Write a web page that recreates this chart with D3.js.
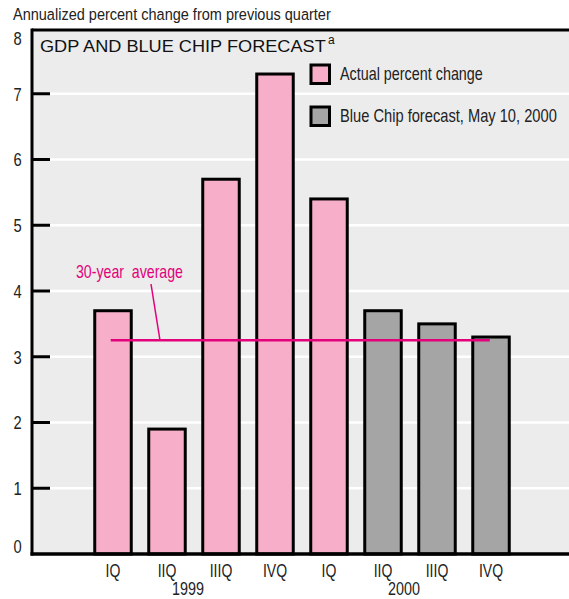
<!DOCTYPE html>
<html><head><meta charset="utf-8">
<script src="https://cdn.jsdelivr.net/npm/d3@7"></script>
<style>
body{margin:0;background:#fff;}
text{font-family:"Liberation Sans",Arial,sans-serif;}
</style></head>
<body><svg id="c" width="569" height="599"></svg>
<script>
const categories = ["IQ 1999","IIQ 1999","IIIQ 1999","IVQ 1999","IQ 2000","IIQ 2000","IIIQ 2000","IVQ 2000"];
const quarterLabels = ["IQ","IIQ","IIIQ","IVQ","IQ","IIQ","IIIQ","IVQ"];
const values = [3.7, 1.9, 5.7, 7.3, 5.4, 3.7, 3.5, 3.3];
const series = ["actual","actual","actual","actual","actual","forecast","forecast","forecast"];
const yearLabels = [{year:"1999", between:["IIQ 1999","IIIQ 1999"]},{year:"2000", between:["IIQ 2000","IIIQ 2000"]}];
const average30 = 3.25;
const yTicks = [0,1,2,3,4,5,6,7,8];
const legendItems = [{key:"actual",label:"Actual percent change"},{key:"forecast",label:"Blue Chip forecast, May 10, 2000"}];

const colors = {actual:"#f7aec8", forecast:"#a5a5a5"};
const magenta = "#e3007b";
const svg = d3.select("#c");
const pLeft = 32, pTop = 30, pBottom = 554, pRight = 575;

// horizontal compression around the text's own x position
function squeeze(sel, f){
  sel.each(function(){
    const x0 = +this.getAttribute("x") || 0;
    d3.select(this).attr("transform", `translate(${x0},0) scale(${f},1) translate(${-x0},0)`);
  });
}
// compress to a target width
function fit(sel, w){
  sel.each(function(){
    const nat = this.getComputedTextLength();
    d3.select(this).call(squeeze, w/nat);
  });
}

const y = d3.scaleLinear().domain([0,8]).range([pBottom, 28]);
const x = d3.scaleBand().domain(categories).range([86, 518]).paddingInner(0.324).paddingOuter(0.162);

// panel
svg.append("rect").attr("x",pLeft).attr("y",pTop).attr("width",pRight-pLeft).attr("height",pBottom-pTop).attr("fill","#ececec");
// gridlines
svg.selectAll("line.grid").data(yTicks.filter(d=>d>0 && d<8)).join("line")
  .attr("x1",pLeft).attr("x2",pRight).attr("y1",d=>y(d)).attr("y2",d=>y(d))
  .attr("stroke","#fff").attr("stroke-width",2.5);

// bars
svg.selectAll("rect.bar").data(categories).join("rect")
  .attr("x",d=>x(d)).attr("width",x.bandwidth())
  .attr("y",(d,i)=>y(values[i])).attr("height",(d,i)=>y(0)-y(values[i]))
  .attr("fill",(d,i)=>colors[series[i]]).attr("stroke","#000").attr("stroke-width",3);

// borders
svg.append("line").attr("x1",pLeft).attr("x2",pRight).attr("y1",pTop).attr("y2",pTop).attr("stroke","#000").attr("stroke-width",3);
svg.append("line").attr("x1",pLeft).attr("x2",pLeft).attr("y1",pTop-1.5).attr("y2",pBottom+1.5).attr("stroke","#000").attr("stroke-width",3);
svg.append("line").attr("x1",pLeft-1.5).attr("x2",pRight).attr("y1",pBottom).attr("y2",pBottom).attr("stroke","#000").attr("stroke-width",3.5);

// y axis
const yAxis = d3.axisLeft(y).tickValues(yTicks).tickSize(0).tickFormat(d3.format("d"));
const ya = svg.append("g").attr("transform",`translate(${pLeft},0)`).call(yAxis);
ya.select(".domain").remove();
ya.selectAll("text").attr("font-size",18).attr("fill","#222").attr("text-anchor","middle")
  .attr("x",-14.5).attr("dy",d=> d===8 ? "0.9em" : d===0 ? "-0.07em" : "0.36em")
  .call(squeeze,0.82);
svg.selectAll("line.tick").data(yTicks.filter(d=>d>0 && d<8)).join("line")
  .attr("x1",pLeft).attr("x2",pLeft+18).attr("y1",d=>y(d)).attr("y2",d=>y(d))
  .attr("stroke","#000").attr("stroke-width",3);

// x labels
const xAxis = d3.axisBottom(x).tickSize(0).tickPadding(11).tickFormat((d,i)=>quarterLabels[i]);
const xa = svg.append("g").attr("transform",`translate(0,${pBottom})`).call(xAxis);
xa.select(".domain").remove();
xa.selectAll("text").attr("font-size",17.5).attr("fill","#222").call(squeeze,0.8);
svg.selectAll("text.year").data(yearLabels).join("text")
  .attr("x",d=>(x(d.between[0])+x(d.between[1])+x.bandwidth())/2 - 6)
  .attr("y",595.5).attr("text-anchor","middle").attr("font-size",17.5).attr("fill","#222").text(d=>d.year)
  .call(squeeze,0.82);

// axis title
svg.append("text").attr("x",13).attr("y",20).attr("font-size",17).attr("fill","#222")
  .text("Annualized percent change from previous quarter").call(fit,318);

// chart title
svg.append("text").attr("x",40).attr("y",52).attr("font-size",17).attr("fill","#111")
  .text("GDP AND BLUE CHIP FORECAST").call(fit,286);
svg.append("text").attr("x",328).attr("y",44).attr("font-size",12).attr("fill","#111").text("a");

// legend
const lg = svg.selectAll("g.leg").data(legendItems).join("g").attr("transform",(d,i)=>`translate(311,${65+i*42})`);
lg.append("rect").attr("width",18.5).attr("height",18.5).attr("fill",d=>colors[d.key]).attr("stroke","#000").attr("stroke-width",3);
lg.append("text").attr("x",29).attr("y",15).attr("font-size",18).attr("fill","#222").text(d=>d.label)
  .each(function(d,i){ d3.select(this).call(fit, i===0 ? 143 : 217); });

// 30-year average
svg.append("line").attr("x1",x(categories[0])+16).attr("x2",x(categories[7])+17)
  .attr("y1",y(average30)).attr("y2",y(average30)).attr("stroke",magenta).attr("stroke-width",2.5);
svg.append("line").attr("x1",151).attr("y1",284).attr("x2",160).attr("y2",y(average30))
  .attr("stroke",magenta).attr("stroke-width",1.5);
svg.append("text").attr("x",76).attr("y",278).attr("font-size",18).attr("fill",magenta)
  .attr("xml:space","preserve").text("30-year  average").call(fit,107);
</script></body></html>
